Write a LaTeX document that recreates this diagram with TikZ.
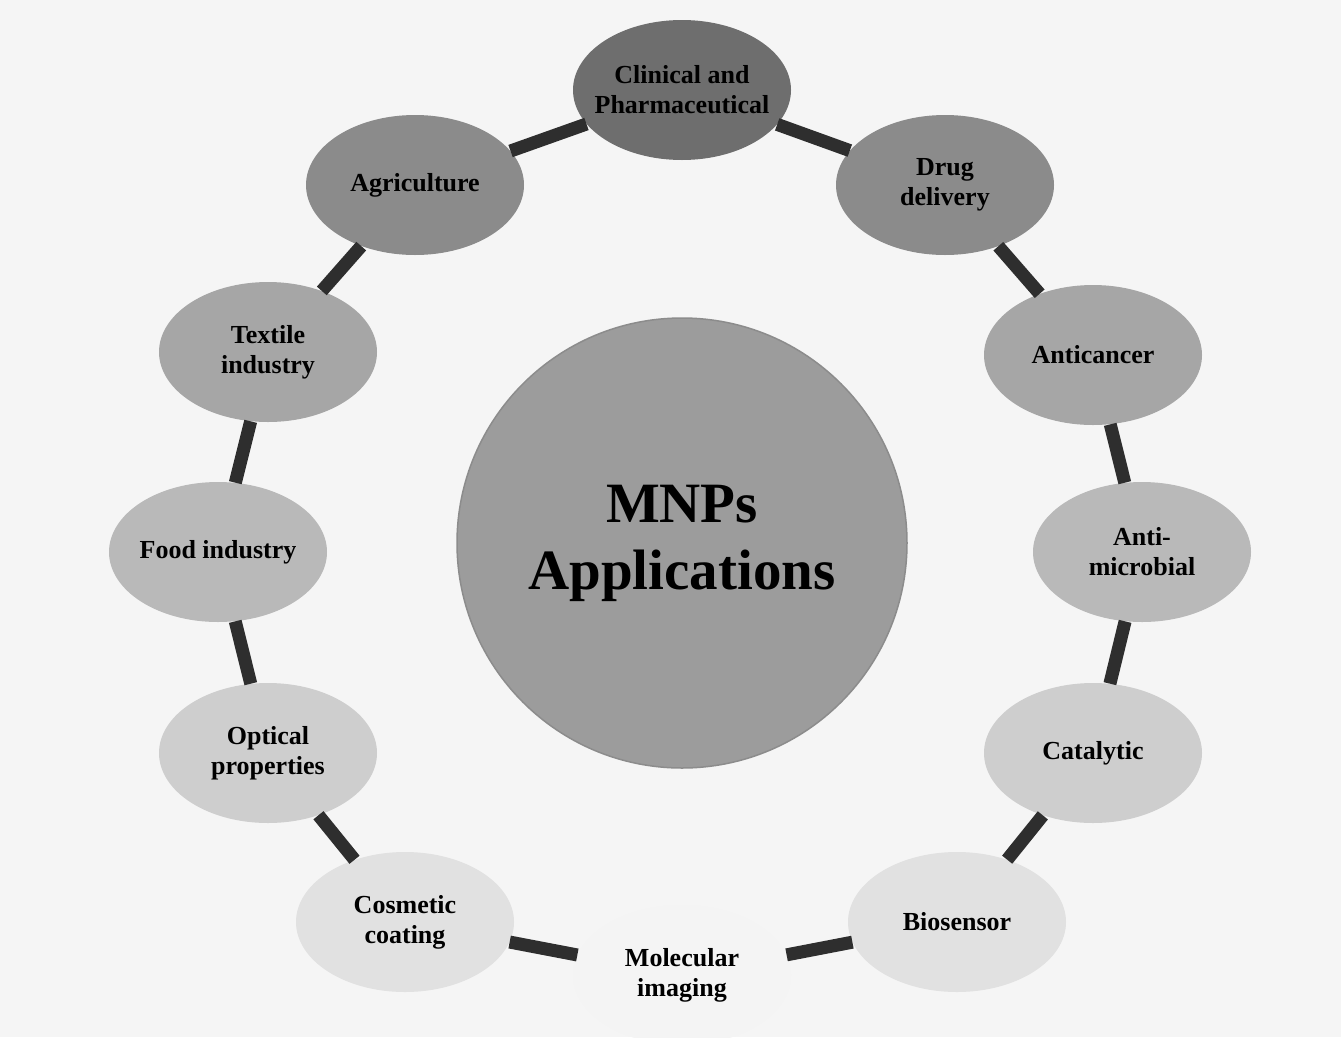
\documentclass[tikz,border=0pt]{standalone}
\usepackage{fontspec}
\setmainfont{Liberation Serif}
\usetikzlibrary{shapes.geometric}
\definecolor{bgc}{HTML}{F5F5F5}
\definecolor{linkc}{HTML}{2E2E2E}
\definecolor{c0}{HTML}{6E6E6E}
\definecolor{c1}{HTML}{8B8B8B}
\definecolor{c2}{HTML}{A6A6A6}
\definecolor{c3}{HTML}{B9B9B9}
\definecolor{c4}{HTML}{CECECE}
\definecolor{c5}{HTML}{E1E1E1}
\definecolor{c6}{HTML}{F4F4F4}
\definecolor{centerc}{HTML}{9C9C9C}
\begin{document}
\begin{tikzpicture}[x=1pt,y=-1pt,
  app/.style={ellipse, minimum width=218pt, minimum height=140pt, inner sep=-30pt,
    align=center, font=\fontsize{26}{30}\selectfont\bfseries},
  link/.style={line width=13pt, draw=linkc}]
\fill[bgc] (0,0) rectangle (1341,1037);
\useasboundingbox (0,0) rectangle (1341,1037);

\node[circle, minimum size=450pt, fill=centerc, draw=black!45, line width=1.5pt,
  align=center, font=\fontsize{57}{67}\selectfont\bfseries] (mnp) at (682,543) {MNPs\\Applications};

\node[app, fill=c0] (clin) at (682,90) {Clinical and\\Pharmaceutical};
\node[app, fill=c1] (agri) at (415,185) {Agriculture};
\node[app, fill=c1] (drug) at (945,185) {Drug\\delivery};
\node[app, fill=c2] (text) at (268,352) {Textile\\industry};
\node[app, fill=c2] (canc) at (1093,355) {Anticancer};
\node[app, fill=c3] (food) at (218,552) {Food industry};
\node[app, fill=c3] (micr) at (1142,552) {Anti-\\microbial};
\node[app, fill=c4] (opti) at (268,753) {Optical\\properties};
\node[app, fill=c4] (cata) at (1093,753) {Catalytic};
\node[app, fill=c5] (cosm) at (405,922) {Cosmetic\\coating};
\node[app, fill=c5] (bios) at (957,922) {Biosensor};
\node[app, fill=c6] (mole) at (682,975) {Molecular\\imaging};

\draw[link] (clin) -- (agri);
\draw[link] (agri) -- (text);
\draw[link] (text) -- (food);
\draw[link] (food) -- (opti);
\draw[link] (opti) -- (cosm);
\draw[link] (cosm) -- (mole);
\draw[link] (mole) -- (bios);
\draw[link] (bios) -- (cata);
\draw[link] (cata) -- (micr);
\draw[link] (micr) -- (canc);
\draw[link] (canc) -- (drug);
\draw[link] (drug) -- (clin);
\end{tikzpicture}
\end{document}
